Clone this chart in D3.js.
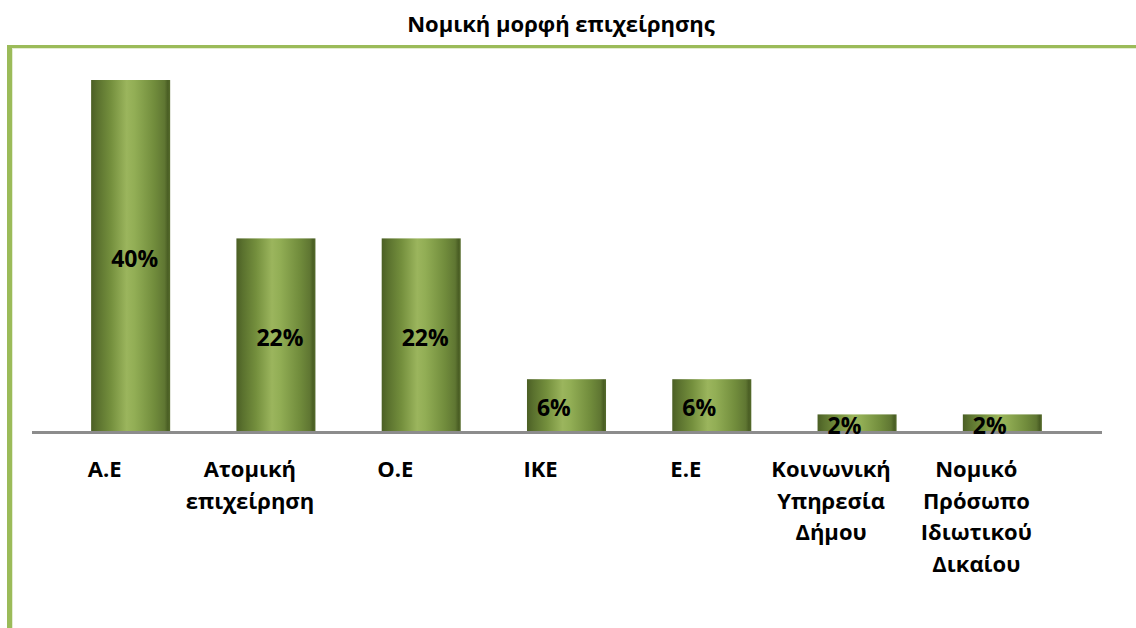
<!DOCTYPE html>
<html>
<head>
<meta charset="utf-8">
<script src="https://cdn.jsdelivr.net/npm/d3@7"></script>
<style>
  html, body { margin: 0; padding: 0; background: #fff; }
  svg { display: block; font-family: "Open Sans", "Noto Sans", sans-serif; }
</style>
</head>
<body>
<svg id="chart" width="1136" height="628"></svg>
<script>
// Legal form of business — share of respondents
const title = "Νομική μορφή επιχείρησης";
const categories = ["Α.Ε", "Ατομική επιχείρηση", "Ο.Ε", "ΙΚΕ", "Ε.Ε", "Κοινωνική Υπηρεσία Δήμου", "Νομικό Πρόσωπο Ιδιωτικού Δικαίου"];
const categoryLines = [["Α.Ε"], ["Ατομική", "επιχείρηση"], ["Ο.Ε"], ["ΙΚΕ"], ["Ε.Ε"], ["Κοινωνική", "Υπηρεσία", "Δήμου"], ["Νομικό", "Πρόσωπο", "Ιδιωτικού", "Δικαίου"]];
const values = [40, 22, 22, 6, 6, 2, 2];
const valueLabels = ["40%", "22%", "22%", "6%", "6%", "2%", "2%"];

const svg = d3.select("#chart");

// Bar fill: cylindrical olive shading across the bar width
const defs = svg.append("defs");
const grad = defs.append("linearGradient").attr("id", "barFill")
  .attr("x1", "0%").attr("x2", "100%").attr("y1", "0%").attr("y2", "0%");
[
  [0, "#4b5f25"], [0.08, "#5a712e"], [0.25, "#748f3d"], [0.45, "#9bb55d"],
  [0.55, "#92ae55"], [0.8, "#718c3c"], [0.93, "#5f7632"], [0.97, "#4a5e24"], [1, "#566c2c"]
].forEach(([o, c]) => grad.append("stop").attr("offset", o).attr("stop-color", c));

// Frame on the top and left edges
svg.append("rect").attr("x", 7).attr("y", 45).attr("width", 1129).attr("height", 3).attr("fill", "#9bbb59");
svg.append("rect").attr("x", 7).attr("y", 45).attr("width", 5).attr("height", 583).attr("fill", "#9bbb59");
svg.append("rect").attr("x", 12).attr("y", 48).attr("width", 1124).attr("height", 1).attr("fill", "#e4edd2");
svg.append("rect").attr("x", 12).attr("y", 48).attr("width", 1).attr("height", 580).attr("fill", "#e4edd2");

// Title
svg.append("text")
  .attr("x", 561).attr("y", 32)
  .attr("text-anchor", "middle")
  .attr("font-weight", "bold").attr("font-size", 22).attr("fill", "#000")
  .text(title);

const x = d3.scaleBand().domain(categories).range([58, 1075]).paddingInner(0.456).paddingOuter(0.228);
const y = d3.scaleLinear().domain([0, 40]).range([432, 80]);

// Bars
svg.append("g").selectAll("rect").data(categories).join("rect")
  .attr("x", d => x(d))
  .attr("y", (d, i) => y(values[i]))
  .attr("width", x.bandwidth())
  .attr("height", (d, i) => y(0) - y(values[i]))
  .attr("fill", "url(#barFill)");

// Category axis line
svg.append("line")
  .attr("x1", x.range()[0] - 26).attr("x2", x.range()[1] + 27)
  .attr("y1", y(0) + 0.5).attr("y2", y(0) + 0.5)
  .attr("stroke", "#8c8c8c").attr("stroke-width", 3);

// Value labels inside the bars
svg.append("g").selectAll("text").data(categories).join("text")
  .attr("x", (d, i) => x(d) + 10 + (valueLabels[i].length - 2) * 10)
  .attr("y", (d, i) => y(values[i] / 2) + 10.5)
  .attr("font-weight", "bold").attr("font-size", 23).attr("fill", "#000")
  .text((d, i) => valueLabels[i]);

// Category labels, wrapped onto several lines
const cat = svg.append("g").selectAll("text").data(categories).join("text")
  .attr("text-anchor", "middle")
  .attr("font-weight", "bold").attr("font-size", 22).attr("fill", "#000");
cat.each(function(d, i) {
  const t = d3.select(this);
  categoryLines[i].forEach((line, k) => {
    t.append("tspan")
      .attr("x", x(d) + x.bandwidth() / 2 - 26)
      .attr("y", 477 + k * 31.6)
      .text(line);
  });
});
</script>
</body>
</html>
